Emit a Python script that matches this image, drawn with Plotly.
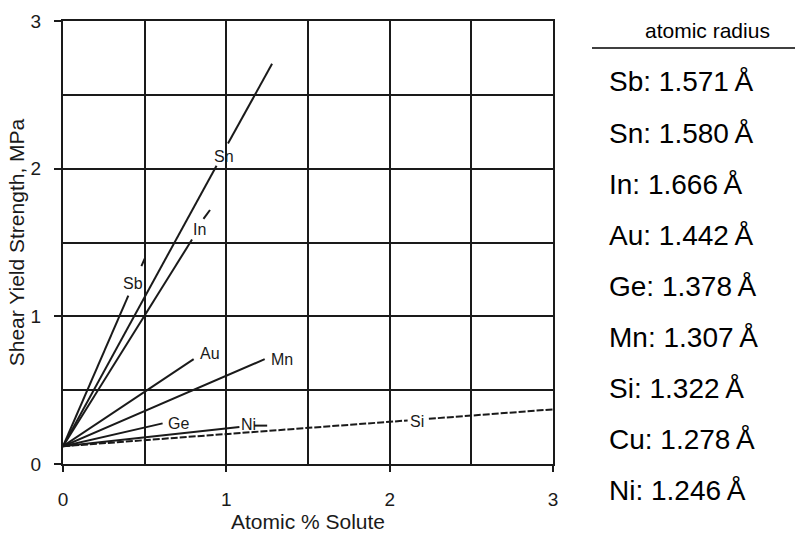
import plotly.graph_objects as go

# ---- data ----
solutes = ["Sb", "Sn", "In", "Au", "Mn", "Ge", "Ni", "Si"]
# line points (None = gap where the label sits)
line_x = {
    "Sb": [0, 0.40, None, 0.48, 0.50],
    "Sn": [0, 0.94, None, 1.01, 1.28],
    "In": [0, 0.79, None, 0.86, 0.90],
    "Au": [0, 0.80],
    "Mn": [0, 1.235],
    "Ge": [0, 0.61],
    "Ni": [0, 1.08, None, 1.17, 1.25],
    "Si": [0, 2.11, None, 2.24, 3.0],
}
line_y = {
    "Sb": [0.12, 1.14, None, 1.34, 1.39],
    "Sn": [0.12, 2.02, None, 2.17, 2.71],
    "In": [0.12, 1.52, None, 1.66, 1.72],
    "Au": [0.12, 0.71],
    "Mn": [0.12, 0.71],
    "Ge": [0.12, 0.275],
    "Ni": [0.12, 0.25, None, 0.26, 0.26],
    "Si": [0.12, 0.295, None, 0.306, 0.37],
}
dashed = {"Si"}
label_x = [0.43, 0.985, 0.835, 0.90, 1.34, 0.705, 1.135, 2.168]
label_y = [1.22, 2.085, 1.59, 0.745, 0.71, 0.275, 0.27, 0.286]

x_ticks = [0, 1, 2, 3]
y_ticks = [0, 1, 2, 3]

radius_elements = ["Sb", "Sn", "In", "Au", "Ge", "Mn", "Si", "Cu", "Ni"]
radius_values = ["1.571", "1.580", "1.666", "1.442", "1.378", "1.307", "1.322", "1.278", "1.246"]

# ---- layout geometry (pixels) ----
W, H = 795, 537
L, R, T, B = 63, 553, 21, 464
pw, ph = R - L, B - T

def px_x(px):
    return (px - L) / pw

def px_y(py):
    return (B - py) / ph

ink = "#1a1a1a"
fnt = "Liberation Sans, Arial"
fig = go.Figure()
for s in solutes:
    fig.add_trace(go.Scatter(
        x=line_x[s], y=line_y[s], mode="lines",
        line=dict(color=ink, width=2, dash="7px,2px" if s in dashed else "solid"),
        showlegend=False, hoverinfo="skip", connectgaps=False))

for s, lx, ly in zip(solutes, label_x, label_y):
    fig.add_annotation(x=lx, y=ly, text=s, showarrow=False, xanchor="center", yanchor="middle",
                       font=dict(family=fnt, size=16, color=ink))

# right-hand table
fig.add_annotation(x=px_x(707), y=px_y(30), xref="paper", yref="paper", text="atomic radius",
                   showarrow=False, xanchor="center", yanchor="middle",
                   font=dict(family=fnt, size=21, color="black"))
fig.add_shape(type="line", xref="paper", yref="paper", x0=px_x(592), x1=px_x(795),
              y0=px_y(48), y1=px_y(48), line=dict(color="black", width=1.3))
for i, (el, v) in enumerate(zip(radius_elements, radius_values)):
    fig.add_annotation(x=px_x(607), y=px_y(82 + i * 51.1), xref="paper", yref="paper",
                       text=f"{el}: {v}\u2009Å", showarrow=False, xanchor="left", yanchor="middle",
                       font=dict(family=fnt, size=28, color="black"))

axis_common = dict(
    range=[0, 3], showline=True, linecolor=ink, linewidth=2, mirror=True,
    showgrid=True, gridcolor=ink, gridwidth=1.8,
    ticks="outside", tickcolor=ink, tickwidth=1.8,
    zeroline=False, fixedrange=True, automargin=False,
    tickfont=dict(family=fnt, size=19, color=ink),
    minor=dict(dtick=0.5, showgrid=True, gridcolor=ink, gridwidth=1.8, ticks=""),
)
fig.update_xaxes(**axis_common, tickvals=x_ticks, ticklen=6, ticklabelstandoff=11,
                 title=dict(text="Atomic % Solute", standoff=6,
                            font=dict(family=fnt, size=21, color=ink)))
fig.update_yaxes(**axis_common, tickvals=y_ticks, ticklen=7, ticklabelstandoff=9,
                 title=dict(text="Shear Yield Strength, MPa", standoff=0,
                            font=dict(family=fnt, size=21, color=ink)))

fig.update_layout(
    width=W, height=H, margin=dict(l=L, r=W - R, t=T, b=H - B, pad=0),
    paper_bgcolor="white", plot_bgcolor="white", showlegend=False,
)
fig.write_html("out.html", config={"displayModeBar": False},
               post_script="document.body.style.margin='0';")
